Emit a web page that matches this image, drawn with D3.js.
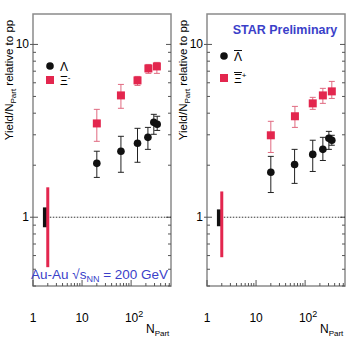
<!DOCTYPE html>
<html>
<head>
<meta charset="utf-8">
<script src="https://cdn.jsdelivr.net/npm/d3@7"></script>
<style>
  body { margin: 0; background: #fff; }
  svg text { font-family: "Liberation Sans", Arial, sans-serif; }
</style>
</head>
<body>
<script>
// Au-Au 200 GeV, yield per participant relative to pp
var npartL = [20, 62, 135, 220, 290, 340];
var lambda = [2.05, 2.41, 2.68, 2.90, 3.54, 3.45];
var lambdaHi = [2.41, 2.94, 3.27, 3.31, 3.94, 3.84];
var lambdaLo = [1.70, 1.82, 2.08, 2.47, 3.02, 3.18];

var npartX = [20, 62, 135, 225, 335];
var xi = [3.49, 5.07, 6.19, 7.26, 7.46];
var xiHi = [4.21, 5.87, 6.53, 7.66, 7.87];
var xiLo = [2.75, 4.27, 5.79, 6.80, 6.80];

var npartAL = [20, 61, 143, 230, 305, 350];
var alambda = [1.82, 2.02, 2.31, 2.47, 2.86, 2.79];
var alambdaHi = [2.25, 2.47, 2.79, 2.90, 3.14, 2.98];
var alambdaLo = [1.39, 1.57, 1.84, 2.13, 2.47, 2.61];

var npartAX = [20, 62, 143, 230, 350];
var axi = [2.98, 3.84, 4.56, 5.07, 5.35];
var axiHi = [3.59, 4.38, 4.94, 5.57, 6.11];
var axiLo = [2.37, 3.31, 4.21, 4.56, 4.87];

// normalisation uncertainty boxes [x, lo, hi]
var normL = [[1.75, 0.875, 1.14], [2.0, 0.514, 1.49]];
var normR = [[1.75, 0.887, 1.11], [2.0, 0.587, 1.41]];

var xTicks = [1, 10, 100];
var yTicks = [1, 10];

var red = "#e3264e";
var blue = "#3b3fc9";

var svg = d3.select("body").append("svg")
    .attr("width", 354)
    .attr("height", 347);

function rows(n, v, hi, lo) {
    return n.map(function (d, i) {
        return { n: d, v: v[i], hi: hi[i], lo: lo[i] };
    });
}

function drawPanel(x0, opts) {
    var g = svg.append("g");
    var x = d3.scaleLog().domain([1, 650]).range([x0, x0 + 138]);
    var y = d3.scaleLog().domain([0.4, 15]).range([286, 14]);

    // frame
    g.append("rect")
        .attr("x", x0).attr("y", 14)
        .attr("width", 138).attr("height", 272)
        .attr("fill", "none")
        .attr("stroke", "#8a8a8a")
        .attr("stroke-width", 1.5);

    // y ticks (log minors inside)
    y.ticks().forEach(function (t) {
        var major = yTicks.indexOf(t) > -1;
        g.append("line")
            .attr("x1", x0 - (major ? 3 : 0)).attr("x2", x0 + (major ? 5 : 3))
            .attr("y1", y(t)).attr("y2", y(t))
            .attr("stroke", "#555").attr("stroke-width", 1);
        g.append("line")
            .attr("x1", x0 + 138 - (major ? 5 : 3)).attr("x2", x0 + 138)
            .attr("y1", y(t)).attr("y2", y(t))
            .attr("stroke", "#555").attr("stroke-width", 1);
    });
    g.selectAll(".ylab").data(yTicks).enter().append("text")
        .attr("x", x0 - 4)
        .attr("y", function (d) { return y(d) + 4; })
        .attr("text-anchor", "end")
        .attr("font-size", 12)
        .text(function (d) { return d; });

    // x ticks
    x.ticks().forEach(function (t) {
        var major = xTicks.indexOf(t) > -1;
        g.append("line")
            .attr("x1", x(t)).attr("x2", x(t))
            .attr("y1", 286).attr("y2", 286 - (major ? 6 : 3))
            .attr("stroke", "#555").attr("stroke-width", 1);
    });
    var xl = g.selectAll(".xlab").data(xTicks).enter().append("text")
        .attr("x", function (d) { return x(d) + (d == 100 ? 3 : 0); })
        .attr("y", 322)
        .attr("text-anchor", "middle")
        .attr("font-size", 12);
    xl.each(function (d) {
        var t = d3.select(this);
        if (d == 100) {
            t.append("tspan").text("10");
            t.append("tspan").attr("dy", -5).attr("font-size", 9).text("2");
        } else {
            t.text(d);
        }
    });

    // axis titles
    var nt = g.append("text")
        .attr("x", x0 + 113).attr("y", 333)
        .attr("font-size", 12);
    nt.append("tspan").text("N");
    nt.append("tspan").attr("dy", 3).attr("font-size", 8).text("Part");

    var yt = g.append("text")
        .attr("transform", "translate(" + (x0 - 20) + ",80) rotate(-90)")
        .attr("text-anchor", "middle")
        .attr("font-size", 11.5);
    yt.append("tspan").text("Yield/N");
    yt.append("tspan").attr("dy", 3).attr("font-size", 8).text("Part");
    yt.append("tspan").attr("dy", -3).text(" relative to pp");

    // reference line at 1
    g.append("line")
        .attr("x1", x(2.2)).attr("x2", x0 + 138)
        .attr("y1", y(1)).attr("y2", y(1))
        .attr("stroke", "#333")
        .attr("stroke-width", 1)
        .attr("stroke-dasharray", "1.5,1.5");

    // normalisation bars
    g.append("rect")
        .attr("x", x(opts.norm[0][0]) - 2).attr("width", 4)
        .attr("y", y(opts.norm[0][2]))
        .attr("height", y(opts.norm[0][1]) - y(opts.norm[0][2]))
        .attr("fill", "#111");
    g.append("rect")
        .attr("x", x(opts.norm[1][0]) - 1.5).attr("width", 3)
        .attr("y", y(opts.norm[1][2]))
        .attr("height", y(opts.norm[1][1]) - y(opts.norm[1][2]))
        .attr("fill", red);

    function series(data, color, barColor, shape) {
        var s = g.append("g");
        data.forEach(function (d) {
            var cx = x(d.n);
            s.append("line")
                .attr("x1", cx).attr("x2", cx)
                .attr("y1", y(d.hi)).attr("y2", y(d.lo))
                .attr("stroke", barColor).attr("stroke-width", 1);
            [d.hi, d.lo].forEach(function (e) {
                s.append("line")
                    .attr("x1", cx - 3).attr("x2", cx + 3)
                    .attr("y1", y(e)).attr("y2", y(e))
                    .attr("stroke", barColor).attr("stroke-width", 1);
            });
        });
        data.forEach(function (d) {
            if (shape == "circle") {
                s.append("circle")
                    .attr("cx", x(d.n)).attr("cy", y(d.v))
                    .attr("r", 3.8).attr("fill", color);
            } else {
                s.append("rect")
                    .attr("x", x(d.n) - 4).attr("y", y(d.v) - 4)
                    .attr("width", 8).attr("height", 8)
                    .attr("fill", color);
            }
        });
    }

    series(opts.xi, red, "#e06a80", "rect");
    series(opts.lambda, "#111", "#222", "circle");

    // legend
    g.append("circle").attr("cx", x0 + 17).attr("cy", opts.legY[0]).attr("r", 3.8).attr("fill", "#111");
    g.append("rect").attr("x", x0 + 13).attr("y", opts.legY[1] - 4)
        .attr("width", 8).attr("height", 8).attr("fill", red);
    g.append("text").attr("x", x0 + 27).attr("y", opts.legY[0] + 5)
        .attr("font-size", 12).text(opts.names[0]);
    var t2 = g.append("text").attr("x", x0 + 27).attr("y", opts.legY[1] + 5)
        .attr("font-size", 12);
    t2.append("tspan").text(opts.names[1]);
    t2.append("tspan").attr("dy", -5).attr("font-size", 8).text(opts.names[2]);
    if (opts.bar) {
        // overbars for antiparticles
        [opts.legY[0], opts.legY[1]].forEach(function (ly) {
            g.append("line")
                .attr("x1", x0 + 27).attr("x2", x0 + 35)
                .attr("y1", ly - 5.5).attr("y2", ly - 5.5)
                .attr("stroke", "#111").attr("stroke-width", 1);
        });
    }

    return g;
}

var left = drawPanel(33, {
    lambda: rows(npartL, lambda, lambdaHi, lambdaLo),
    xi: rows(npartX, xi, xiHi, xiLo),
    norm: normL,
    legY: [66, 80],
    names: ["\u039B", "\u039E", "-"],
    bar: false
});

var right = drawPanel(207, {
    lambda: rows(npartAL, alambda, alambdaHi, alambdaLo),
    xi: rows(npartAX, axi, axiHi, axiLo),
    norm: normR,
    legY: [56, 78],
    names: ["\u039B", "\u039E", "+"],
    bar: true
});

right.append("text")
    .attr("x", 285).attr("y", 34)
    .attr("text-anchor", "middle")
    .attr("font-size", 12.5)
    .attr("font-weight", "bold")
    .attr("fill", blue)
    .text("STAR Preliminary");

var lab = left.append("text")
    .attr("x", 31).attr("y", 279)
    .attr("font-size", 13.5)
    .attr("fill", blue);
lab.append("tspan").text("Au-Au \u221As");
lab.append("tspan").attr("dy", 3).attr("font-size", 9).text("NN");
lab.append("tspan").attr("dy", -3).text(" = 200 GeV");
</script>
</body>
</html>
